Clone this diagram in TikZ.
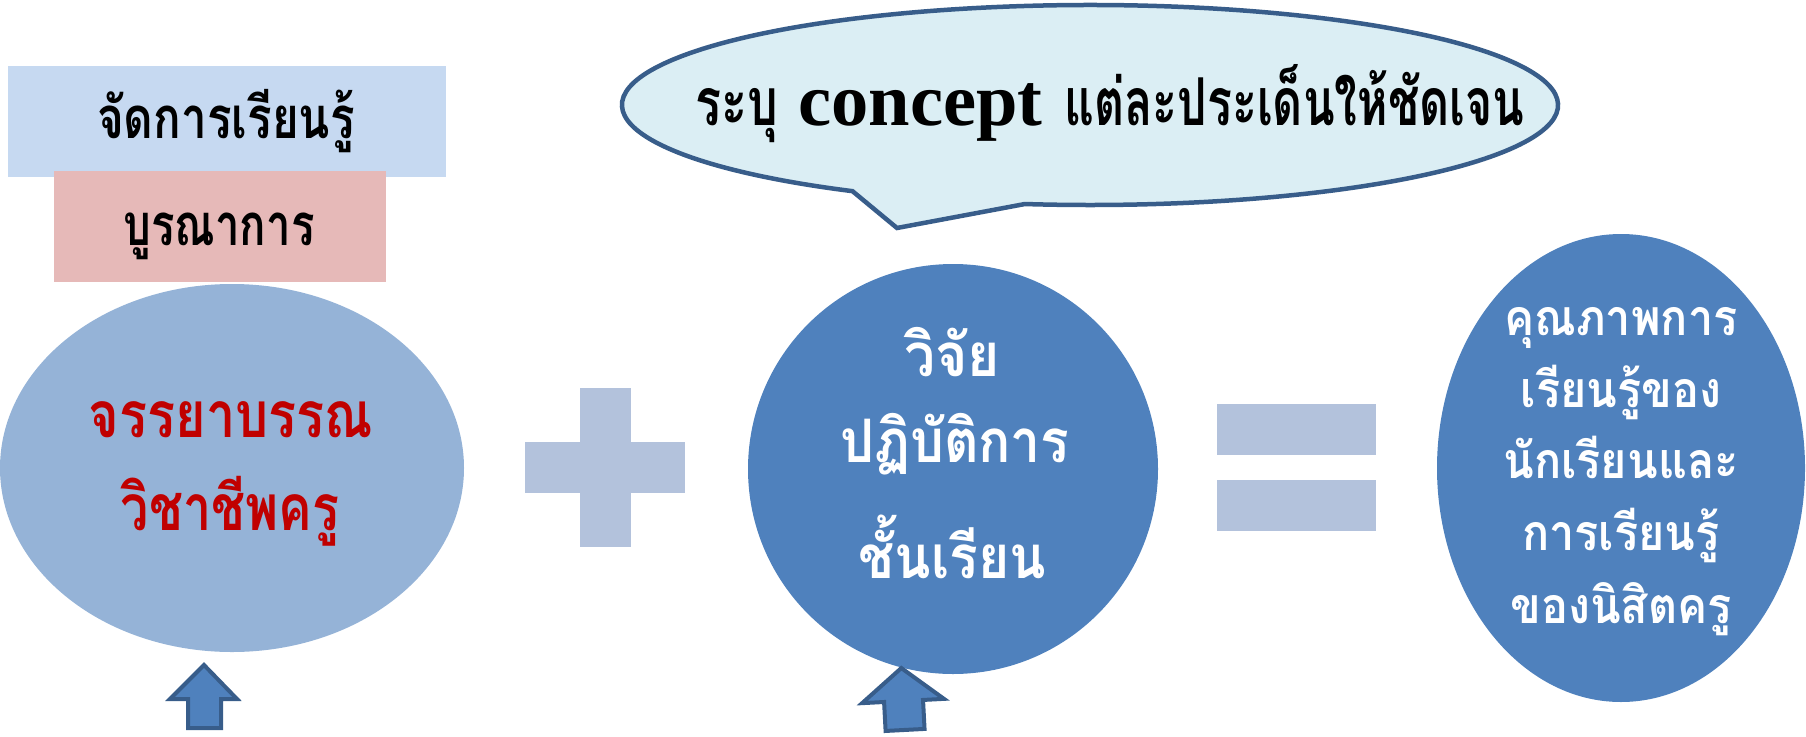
\documentclass[tikz,border=0pt]{standalone}
\usepackage{fontspec}
\usepackage{graphicx}
\usetikzlibrary{calc}
\newfontfamily\thai[Script=Thai]{Loma}
\newfontfamily\tnr{Liberation Serif}
\newcommand{\sqz}[2]{\scalebox{#1}[1]{#2}}
\definecolor{boxblue}{HTML}{C6D9F1}
\definecolor{boxpink}{HTML}{E6B9B8}
\definecolor{lightell}{HTML}{95B3D7}
\definecolor{midblue}{HTML}{4F81BD}
\definecolor{opsign}{HTML}{B3C2DC}
\definecolor{callfill}{HTML}{DBEEF4}
\definecolor{darkline}{HTML}{385D8A}
\definecolor{redtxt}{HTML}{C00000}
\tikzset{
  txt/.style={inner sep=0pt, anchor=base},
  blkarrow/.style={fill=midblue, draw=darkline, line width=4pt, line join=miter},
}
\begin{document}
\begin{tikzpicture}[x=1pt,y=-1pt]
\useasboundingbox (0,0) rectangle (1806,736);
% top boxes
\fill[boxblue] (8,66) rectangle (446,177);
\fill[boxpink] (54,171) rectangle (386,282);
\node[txt] (t1) at (226,138) {\thai\bfseries\fontsize{58}{58}\selectfont \sqz{0.79}{จัดการเรียนรู้}};
\node[txt] (t2) at (219,245) {\thai\bfseries\fontsize{58}{58}\selectfont \sqz{0.755}{บูรณาการ}};
% left ellipse
\coordinate (lc) at (232,468);
\fill[lightell] (lc) ellipse [x radius=232, y radius=184];
\node[txt, text=redtxt] (l1) at (231,437) {\thai\bfseries\fontsize{64}{64}\selectfont \sqz{0.816}{จรรยาบรรณ}};
\node[txt, text=redtxt] (l2) at (230,530) {\thai\bfseries\fontsize{64}{64}\selectfont \sqz{0.785}{วิชาชีพครู}};
% plus
\fill[opsign] (525,442) rectangle (685,493);
\fill[opsign] (580,388) rectangle (631,547);
% middle circle
\coordinate (mc) at (953,469);
\fill[midblue] (mc) circle [radius=205];
\node[txt, text=white] (m1) at (952,376) {\thai\bfseries\fontsize{60}{60}\selectfont \sqz{0.92}{วิจัย}};
\node[txt, text=white] (m2) at (955,462) {\thai\bfseries\fontsize{60}{60}\selectfont \sqz{0.89}{ปฏิบัติการ}};
\node[txt, text=white] (m3) at (952,578) {\thai\bfseries\fontsize{60}{60}\selectfont \sqz{0.89}{ชั้นเรียน}};
% equals
\fill[opsign] (1217,404) rectangle (1376,455);
\fill[opsign] (1217,480) rectangle (1376,531);
% right ellipse
\coordinate (rc) at (1621,468);
\fill[midblue] (rc) ellipse [x radius=184, y radius=234];
\node[txt, text=white] (r1) at (1621,335) {\thai\bfseries\fontsize{50}{50}\selectfont \sqz{0.9}{คุณภาพการ}};
\node[txt, text=white] (r2) at (1621,407) {\thai\bfseries\fontsize{50}{50}\selectfont \sqz{0.9}{เรียนรู้ของ}};
\node[txt, text=white] (r3) at (1621,478) {\thai\bfseries\fontsize{50}{50}\selectfont \sqz{0.9}{นักเรียนและ}};
\node[txt, text=white] (r4) at (1621,550) {\thai\bfseries\fontsize{50}{50}\selectfont \sqz{0.9}{การเรียนรู้}};
\node[txt, text=white] (r5) at (1621,623) {\thai\bfseries\fontsize{50}{50}\selectfont \sqz{0.9}{ของนิสิตครู}};
% callout
\coordinate (cc) at (1090,105);
\coordinate (ctip) at (897,228);
\filldraw[fill=callfill, draw=darkline, line width=4.5pt, line join=miter]
  ($(cc)+(120.5:468 and 100)$) arc[start angle=120.5, end angle=458, x radius=468, y radius=100]
  -- (ctip) -- cycle;
\node[txt] (ct) at (1110,125) {\thai\bfseries\fontsize{66}{66}\selectfont \sqz{0.734}{ระบุ}\hspace{20pt}{\tnr\bfseries\fontsize{74.5}{74.5}\selectfont concept}\hspace{22pt}\sqz{0.703}{แต่ละประเด็นให้ชัดเจน}};
% arrows
\filldraw[blkarrow] (204,665) -- (237,699) -- (221,699) -- (221,728) -- (188,728) -- (188,699) -- (170,699) -- cycle;
\begin{scope}[shift={(903,700)}, rotate=3]
\filldraw[blkarrow] (0,-32) -- (41,1) -- (20,1) -- (20,30) -- (-19,30) -- (-19,1) -- (-41,1) -- cycle;
\end{scope}
\end{tikzpicture}
\end{document}
